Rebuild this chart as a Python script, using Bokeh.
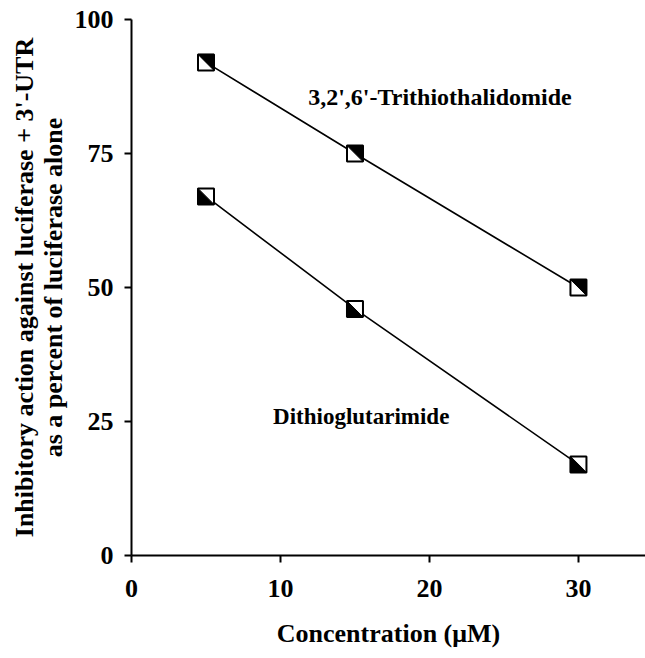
from bokeh.plotting import figure
from bokeh.models import Range1d, FixedTicker, Label
from bokeh.embed import file_html
from bokeh.resources import INLINE

# ---- data ----
conc = [5, 15, 30]
trithio = [92, 75, 50]
dithio = [67, 46, 17]
x_ticks = [0, 10, 20, 30]
y_ticks = [0, 25, 50, 75, 100]
trithio_name = "3,2',6'-Trithiothalidomide"
dithio_name = "Dithioglutarimide"
x_title = "Concentration (\u03bcM)"
y_title = "Inhibitory action against luciferase + 3'-UTR\nas a percent of luciferase alone"

FONT = "Liberation Serif"
W, H = 645, 658
BL, BR, BT, BB = 131, 0, 19, 103
XMAX = 34.5
YMAX = 100

p = figure(width=W, height=H, output_backend="svg", toolbar_location=None,
           x_range=Range1d(0, XMAX), y_range=Range1d(0, YMAX),
           min_border_left=BL, min_border_right=BR, min_border_top=BT, min_border_bottom=BB)
p.outline_line_color = None
p.xgrid.grid_line_color = None
p.ygrid.grid_line_color = None
p.background_fill_color = "white"
p.border_fill_color = "white"

for ax in (p.xaxis[0], p.yaxis[0]):
    ax.axis_line_width = 2
    ax.axis_line_color = "black"
    ax.major_tick_line_width = 2
    ax.major_tick_in = 0
    ax.major_tick_out = 7
    ax.minor_tick_line_color = None
    ax.major_label_text_font = FONT
    ax.major_label_text_font_style = "bold"
    ax.major_label_text_font_size = "26px"
    ax.major_label_text_color = "black"
    ax.axis_label_text_font = FONT
    ax.axis_label_text_font_style = "bold"
    ax.axis_label_text_font_size = "26px"
    ax.axis_label_text_color = "black"

p.xaxis.ticker = FixedTicker(ticks=x_ticks)
p.yaxis.ticker = FixedTicker(ticks=y_ticks)
p.xaxis.major_label_standoff = 17
p.yaxis.major_label_standoff = 11
p.xaxis.axis_label = x_title
p.yaxis.axis_label = y_title
p.xaxis.axis_label_standoff = 19
p.yaxis.axis_label_standoff = 4
p.yaxis.axis_label_text_line_height = 1.0

# lines
p.line(conc, trithio, line_color="black", line_width=1.6)
p.line(conc, dithio, line_color="black", line_width=1.6)

# half-filled square markers
MS = 16
px_x = (W - BL - BR) / XMAX
px_y = (H - BT - BB) / YMAX
hx = (MS / 2) / px_x
hy = (MS / 2) / px_y

p.scatter(conc, trithio, marker="square", size=MS, fill_color="white", line_color=None)
p.scatter(conc, dithio, marker="square", size=MS, fill_color="white", line_color=None)

tri_xs = [[x - hx, x + hx, x + hx] for x in conc]
tri_ys = [[y + hy, y + hy, y - hy] for y in trithio]
p.patches(tri_xs, tri_ys, fill_color="black", line_color="black", line_width=1)

dit_xs = [[x - hx, x - hx, x + hx] for x in conc]
dit_ys = [[y + hy, y - hy, y - hy] for y in dithio]
p.patches(dit_xs, dit_ys, fill_color="black", line_color="black", line_width=1)

p.scatter(conc, trithio, marker="square", size=MS, fill_color=None, line_color="black", line_width=2)
p.scatter(conc, dithio, marker="square", size=MS, fill_color=None, line_color="black", line_width=2)

p.add_layout(Label(x=11.86, y=85.5, text=trithio_name, text_font=FONT, text_font_style="bold",
                   text_font_size="24px", text_baseline="middle", text_align="left", text_color="black"))
p.add_layout(Label(x=9.5, y=25.9, text=dithio_name, text_font=FONT, text_font_style="bold",
                   text_font_size="23px", text_baseline="middle", text_align="left", text_color="black"))

open("out.html", "w").write(file_html(p, INLINE))
